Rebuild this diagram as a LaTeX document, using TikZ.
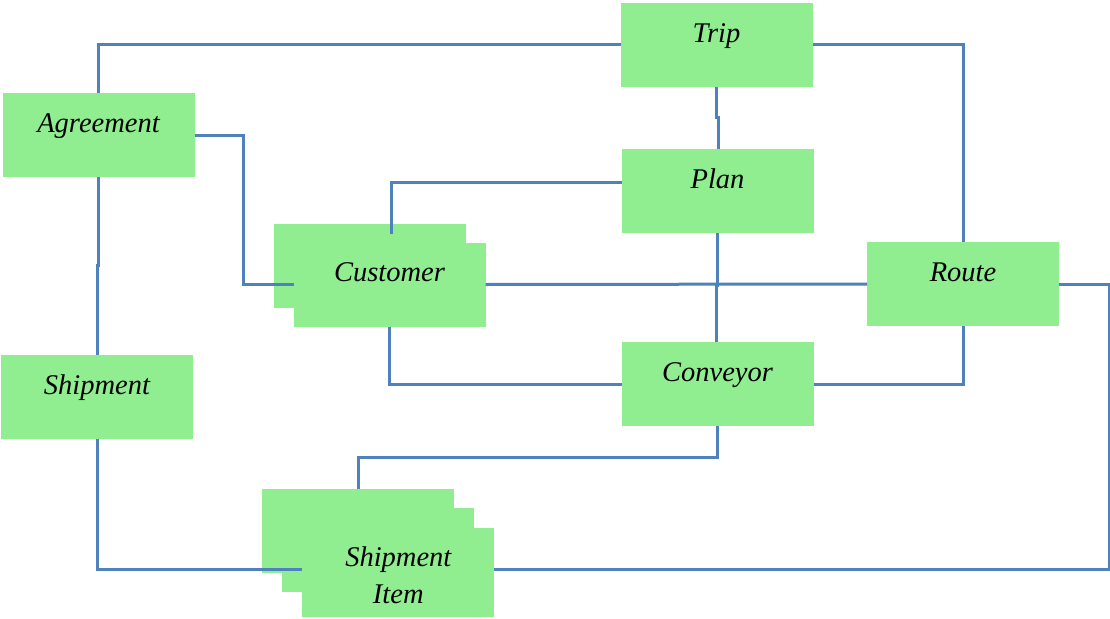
\documentclass[tikz,border=0pt]{standalone}
\usepackage{fontspec}
\setmainfont{Liberation Serif}
\definecolor{boxgreen}{RGB}{144,238,144}
\definecolor{linkblue}{RGB}{79,129,189}
\begin{document}
\begin{tikzpicture}[x=1pt,y=-1pt,
  entity/.style={rectangle,fill=boxgreen,draw=none,inner sep=0pt,outer sep=0pt,
    minimum width=192pt,minimum height=84pt},
  link/.style={draw=linkblue,line width=3pt},
  caption/.style={anchor=base,align=center,inner sep=0pt,
    font=\fontsize{28.5}{37}\selectfont\itshape}]
\useasboundingbox (0,0) rectangle (1110,618);

% entity boxes (stacked ones drawn back to front)
\node[entity] (trip)  at (716.5,45)  {};
\node[entity] (agree) at (98.5,135)  {};
\node[entity] (plan)  at (717.5,191) {};
\node[entity] (custb) at (370,266)   {};
\node[entity] (cust)  at (389.5,284.5) {};
\node[entity] (route) at (963,284)   {};
\node[entity] (ship)  at (97,397)    {};
\node[entity] (conv)  at (717.5,384) {};
\node[entity] (item1) at (358,531)   {};
\node[entity] (item2) at (378,550)   {};
\node[entity,minimum height=89pt] (item3) at (398.3,572.5) {};

% connectors
\draw[link] (trip.west) -| (agree.north);
\draw[link] (trip.east) -| (route.north);
\draw[link] (trip.south) -- ++(0,30) -| ([xshift=0.5pt]plan.north);
\draw[link] (agree.east) -- ++(49,0) |- (cust.west);
\draw[link] (agree.south) -- ++(0,88) -| (ship.north);
\draw[link] ([yshift=9pt]plan.west) -| ([xshift=21pt,yshift=-10pt]custb.north);
\draw[link] (cust.east) -- (route.west);
\draw[link] (plan.south) -- ++(0,52) -| ([xshift=-1.5pt]conv.north);
\draw[link] (cust.south) |- (conv.west);
\draw[link] (conv.east) -| (route.south);
\draw[link] (route.east) -- ++(50,0) |- ([yshift=3.5pt]item3.east);
\draw[link] (conv.south) -- ++(0,31) -| (item1.north);
\draw[link] (ship.south) |- ([yshift=3.5pt]item3.west);

% captions
\node[caption] (tTrip)  at ([yshift=-39pt]trip.north)  {Trip};
\node[caption] (tAgree) at ([yshift=-39pt]agree.north) {Agreement};
\node[caption] (tPlan)  at ([yshift=-39pt]plan.north)  {Plan};
\node[caption] (tCust)  at ([yshift=-39pt]cust.north)  {Customer};
\node[caption] (tRoute) at ([yshift=-39pt]route.north) {Route};
\node[caption] (tShip)  at ([yshift=-39pt]ship.north)  {Shipment};
\node[caption] (tConv)  at ([yshift=-39pt]conv.north)  {Conveyor};
\node[caption] (tItem)  at ([yshift=-75pt]item3.north) {Shipment\\Item};
\end{tikzpicture}
\end{document}
